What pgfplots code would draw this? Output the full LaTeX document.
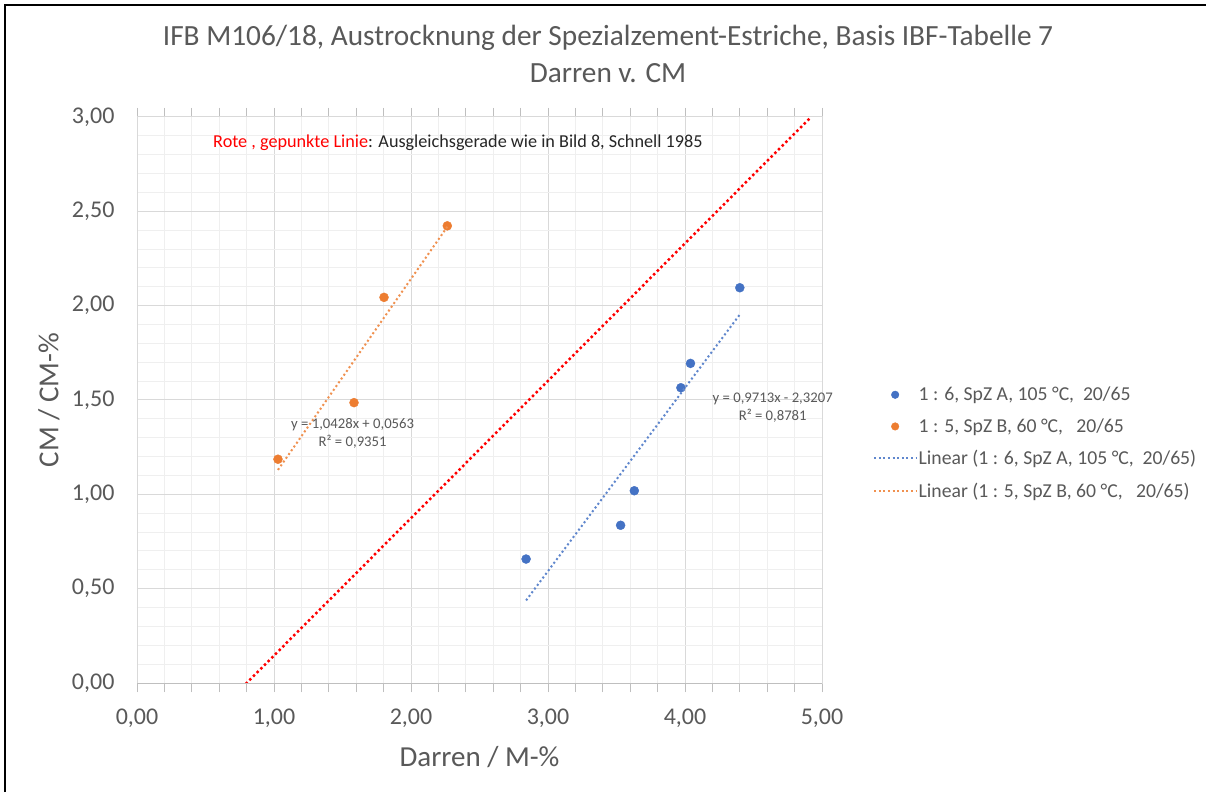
\documentclass[border=0pt]{standalone}
\usepackage{fontspec}
\setmainfont{Carlito}
\usepackage{pgfplots}
\pgfplotsset{compat=1.18}
\definecolor{txt}{HTML}{595959}
\definecolor{annot}{HTML}{262626}
\definecolor{serA}{HTML}{4472C4}
\definecolor{serB}{HTML}{ED7D31}
\definecolor{gmaj}{HTML}{D9D9D9}
\definecolor{gmin}{HTML}{EFEFEF}
\definecolor{axgray}{HTML}{BFBFBF}
\pgfplotsset{
  markleg/.style={legend image code/.code={\path[draw=none,fill=none] (0pt,0pt) -- (42pt,0pt); \draw[##1, only marks, mark size=3.8pt] plot coordinates {(21pt,0pt)};}},
  lineleg/.style={legend image code/.code={\draw[##1] (0pt,0pt) -- (42pt,0pt);}},
}

\begin{document}
\begin{tikzpicture}[x=1pt,y=1pt]
\useasboundingbox (0,0) rectangle (1206,792);
\fill[white] (0,0) rectangle (1206,792);
\draw[line width=2.5pt] (5,0) -- (5,787) -- (1206,787);

% title, two lines
\node[txt, font=\fontsize{29.3}{35}\selectfont] at (608,754) {IFB M106/18, Austrocknung der Spezialzement-Estriche, Basis IBF-Tabelle 7};
\node[txt, font=\fontsize{29.3}{35}\selectfont] at (608,719) {Darren v. CM};

\begin{axis}[
  at={(137pt,109pt)}, anchor=south west,
  width=685pt, height=566pt, scale only axis,
  xmin=0, xmax=5, ymin=0, ymax=3,
  xtick={0,1,...,5}, ytick={0,0.5,...,3},
  minor x tick num=4, minor y tick num=4,
  grid=both,
  major grid style={gmaj, line width=1pt},
  minor grid style={gmin, line width=1pt},
  axis line style={draw=gmaj, line width=1pt},
  tick align=outside,
  major tick length=9pt, minor tick length=9pt,
  xtick style={axgray, line width=1pt},
  ytick style={draw=none},
  /pgf/number format/.cd, fixed, fixed zerofill, precision=2, use comma, assume math mode=true,
  /pgfplots/.cd,
  ticklabel style={font=\fontsize{24}{29}\selectfont, text=txt},
  xticklabel style={yshift=-13pt},
  yticklabel style={xshift=-10pt},
  xlabel={Darren / M-\%}, ylabel={CM / CM-\%},
  label style={font=\fontsize{29}{35}\selectfont, text=txt},
  xlabel style={at={(axis description cs:0.5,-0.1307)}, anchor=center},
  ylabel style={at={(axis description cs:-0.1285,0.5)}, anchor=center},
  legend style={at={(axis description cs:1.070,0.424)}, anchor=west, draw=none, fill=none,
    font=\fontsize{19.7}{24}\selectfont, text=txt, row sep=13.5pt,
    nodes={inner sep=1.5pt}},
  legend cell align=left,
  clip mode=individual,
]

% red "Ausgleichsgerade" (Schnell 1985)
\addplot[red, line width=3.5pt, line cap=round, dash pattern=on 0pt off 5.2pt, forget plot]
  coordinates {(0.80,0) (4.92,3.00)};

% 1:6, SpZ A
\addplot[only marks, mark=*, mark size=4.5pt, color=serA, fill=serA, markleg]
  coordinates {
  (2.84,0.657)
  (3.53,0.836)
  (3.63,1.019)
  (3.97,1.565)
  (4.04,1.694)
  (4.40,2.095)
  };
\addlegendentry{1 : 6, SpZ A, 105 °C,\ \ 20/65}

% 1:5, SpZ B
\addplot[only marks, mark=*, mark size=4.5pt, color=serB, fill=serB, markleg]
  coordinates {
  (1.029,1.186)
  (1.584,1.486)
  (1.803,2.044)
  (2.265,2.423)
  };
\addlegendentry{1 : 5, SpZ B, 60 °C,\ \ \ 20/65}

% linear trend lines
\addplot[serA!85!white, line width=2pt, dash pattern=on 2pt off 2.6pt, lineleg]
  coordinates {(2.84,0.4378) (4.40,1.9530)};
\addlegendentry{Linear (1 : 6, SpZ A, 105 °C,\ \ 20/65)}

\addplot[serB!85!white, line width=2pt, dash pattern=on 2pt off 2.6pt, lineleg]
  coordinates {(1.029,1.1294) (2.265,2.4183)};
\addlegendentry{Linear (1 : 5, SpZ B, 60 °C,\ \ \ 20/65)}

% bottom axis line
\draw[axgray, line width=1pt] (axis cs:0,0) -- (axis cs:5,0);

% trend line equations
\node[txt, font=\fontsize{14.7}{18}\selectfont, align=center] at (axis cs:1.574,1.322)
  {y = 1,0428x + 0,0563\\R² = 0,9351};
\node[txt, font=\fontsize{14.7}{18}\selectfont, align=center] at (axis cs:4.64,1.46)
  {y = 0,9713x - 2,3207\\R² = 0,8781};

% annotation
\node[anchor=west, inner sep=0pt, font=\fontsize{18.2}{22}\selectfont] at (axis cs:0.555,2.862)
  {\textcolor{red}{Rote , gepunkte Linie}\textcolor{annot}{: Ausgleichsgerade wie in Bild 8, Schnell 1985}};
\end{axis}
\end{tikzpicture}
\end{document}
